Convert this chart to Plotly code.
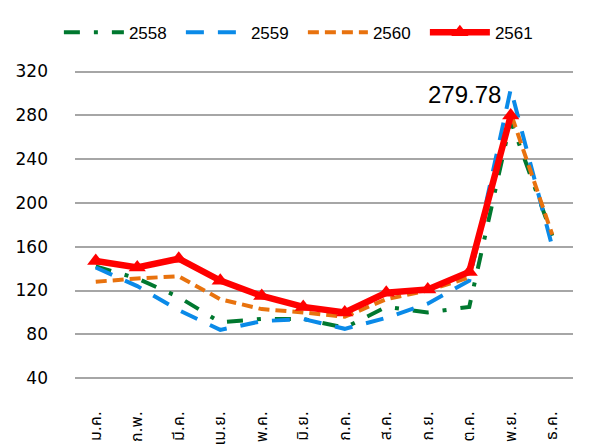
import plotly.graph_objects as go

months = ["ม.ค.", "ก.พ.", "มี.ค.", "เม.ย.", "พ.ค.", "มิ.ย.", "ก.ค.", "ส.ค.", "ก.ย.", "ต.ค.", "พ.ย.", "ธ.ค."]
y2558 = [142, 131, 114, 91, 94, 94, 86, 105, 100, 105, 275, 170]
y2559 = [141, 124, 102, 84, 92, 94, 85, 95, 108, 129, 304, 160]
y2560 = [128, 131, 133, 112, 103, 100, 96, 112, 120, 132, 282, 171]
y2561 = [147, 141, 149, 129, 115, 105, 100, 118, 121, 137, 279.78, None]
y_ticks = [40, 80, 120, 160, 200, 240, 280, 320]

series = [
    ("2558", y2558, "#00782f", "16px,14px,4px,14px", 4),
    ("2559", y2559, "#0a8ae8", "18px,14px", 4),
    ("2560", y2560, "#e8720e", "11px,6px", 4),
]

fig = go.Figure()
for name, ys, color, dash, w in series:
    fig.add_trace(go.Scatter(x=months, y=ys, name=name, mode="lines",
                             line=dict(color=color, width=w, dash=dash)))
fig.add_trace(go.Scatter(x=months, y=y2561, name="2561", mode="lines+markers",
                         line=dict(color="#ff0000", width=6.5),
                         marker=dict(symbol="triangle-up", size=15, color="#ff0000")))

fig.add_annotation(x=months[10], y=y2561[10], text=f"{y2561[10]:.2f}", showarrow=False,
                   xanchor="right", yanchor="middle", xshift=-8, yshift=21,
                   font=dict(size=24, color="#000000", family="Liberation Sans"))

fig.update_layout(
    width=613, height=446,
    margin=dict(l=67, r=48, t=52, b=54),
    paper_bgcolor="white", plot_bgcolor="white",
    font=dict(family="DejaVu Sans, Noto Sans Thai, sans-serif", color="#000000"),
    showlegend=True,
    legend=dict(orientation="h", xref="container", yref="container",
                x=0.083, xanchor="left", y=0.985, yanchor="top",
                font=dict(size=17, family="Liberation Sans"), itemwidth=60,
                entrywidth=47, entrywidthmode="pixels",
                tracegroupgap=0, traceorder="normal"),
)
fig.update_xaxes(type="category", range=[-0.5, 11.5], tickangle=-90, showgrid=False,
                 showline=False, ticks="", tickfont=dict(size=16), automargin=False,
                 ticklabelstandoff=7)
fig.update_yaxes(range=[20, 330.5], tickvals=y_ticks, showgrid=True, gridcolor="#a6a6a6",
                 gridwidth=1.5, zeroline=False, showline=False, ticks="",
                 tickfont=dict(size=17), ticklabelstandoff=26, automargin=False)

fig.write_html("out.html")
